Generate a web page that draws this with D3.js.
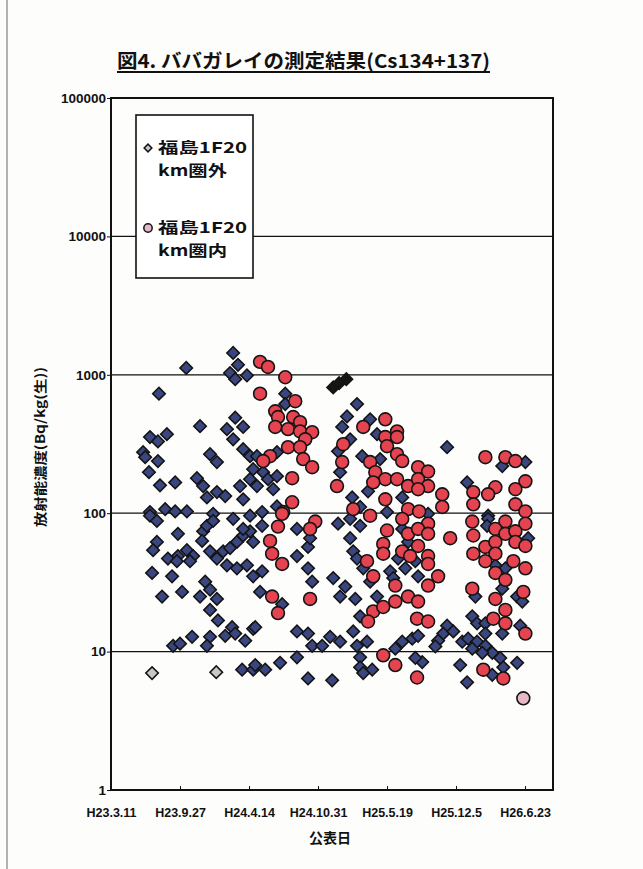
<!DOCTYPE html>
<html><head><meta charset="utf-8">
<script src="https://cdn.jsdelivr.net/npm/d3@7"></script>
<style>body{margin:0;background:#fff}</style>
</head><body>
<svg id="c" width="643" height="869"></svg>
<script>
// ---- data (days since H23.3.11, Bq/kg) ----
const startDate = "2011-03-11";
const endDay = 1281;
const tickDates = ["2011-03-11","2011-09-27","2012-04-14","2012-10-31","2013-05-19","2013-12-05","2014-06-23"];
const tickLabels = ["H23.3.11","H23.9.27","H24.4.14","H24.10.31","H25.5.19","H25.12.5","H26.6.23"];
const yTicks = [1,10,100,1000,10000,100000];
const gridValues = [10,100,1000,10000];
const seriesNames = ["福島1F20km圏外","福島1F20km圏内"];

const outside = [
[354,1440],[368,1180],[345,1030],[360,930],[394,990],[218,1120],[139,730],[258,425],[360,490],[336,405],[383,420],[354,342],[383,290],[403,258],[113,355],[136,330],[162,372],[93,276],[99,254],[136,238],[110,198],[142,159],[186,167],[249,179],[267,157],[287,267],[307,234],[278,130],[307,142],[331,133],[374,157],[403,176],[383,126],[113,102],[157,107],[186,103],[220,103],[296,99],
[113,96],[133,88],[194,71],[267,74],[278,81],[264,63],[296,88],[133,62],[122,54],[165,47],[194,49],[220,54],[238,49],[191,45],[229,45],[287,53],[307,47],[325,53],[345,56],[365,62],[383,69],[403,74],[336,42],[365,40],[394,42],[412,35],[383,77],[354,91],[403,96],[119,37],[177,35],[273,32],[206,27],[148,25],[258,25],[287,28],[307,24],[287,20],[310,16.8],[351,15],[331,13],[360,13.5],[287,12.8],[278,11],[235,12.8],[389,12],[412,14.6],[180,11],[200,11.4],[380,7.4],[412,7.4],
[505,730],[505,615],[423,258],[481,276],[412,208],[441,198],[455,176],[481,185],[470,149],[423,157],[481,112],[438,102],[713,615],[684,500],[670,420],[693,342],[658,280],[664,198],[751,477],[771,372],[728,258],[780,246],[745,144],[699,130],[722,111],[800,102],
[658,84],[539,77],[438,81],[412,62],[539,49],[571,57],[577,66],[571,40],[438,38],[583,32],[644,34],[679,29.5],[664,25],[708,24],[432,27],[496,22],[418,15],[539,14],[571,13.5],[583,11],[612,11],[635,12.8],[664,11.8],[702,14],[539,9.1],[490,8.3],[418,8.0],[447,7.4],[571,6.4],[641,6.2],[713,11],[742,11.8],[722,9.1],[722,7.7],[757,7.4],[731,7.0],[693,91],[722,81],[693,66],[702,53],[713,47],[731,40],[751,32],[771,25],[809,38],[818,34],[722,18],
[974,300],[1201,234],[1134,219],[1032,167],[844,130],[919,99],[1093,96],
[1093,91],[1090,81],[1209,66],[844,77],[861,62],[832,47],[853,40],[882,45],[890,35],[1114,42],[1143,40],[1134,28.5],[1056,25],[1177,25],[1192,23],[1047,18],[1061,16],[1085,16],[1085,13.5],[1134,13.5],[1186,15.4],[974,15.4],[963,13.5],[992,14],[948,12],[940,10.9],[1018,11.8],[1035,12.4],[1061,11.8],[1085,11],[1105,9.8],[1128,9.0],[1137,7.7],[1047,10.5],[1076,9.8],[1177,8.3],[1012,8.0],[1105,6.8],[1032,6.0],[873,12.4],[844,11.8],[890,13],[824,10.5],[902,8.4],[882,9.0]
];
const outsideDark = [[644,810],[661,870],[682,930]];
const outsideND = [[119,7.0],[305,7.1]];

const inside = [
[432,1240],[455,1140],[505,960],[432,730],[534,645],[476,545],[484,495],[528,495],[476,420],[513,405],[548,455],[548,390],[583,385],[563,342],[513,300],[548,300],[461,258],[441,238],[557,246],[583,215],[525,179],[525,120],[499,102],[673,315],[670,234],[655,157],[731,420],[795,477],[795,355],[800,305],[829,390],[829,355],[829,267],[751,234],[766,198],[795,176],[829,176],[760,167],[795,126],[702,107],
[496,99],[484,80],[592,87],[577,77],[461,63],[467,51],[496,43],[577,24],[467,25],[484,19],[789,9.4],[824,8.0],[751,96],[800,75],[742,45],[760,35],[789,60],[789,51],[760,19.5],[745,16.5],[789,21],[824,23],[824,30],
[844,238],[1085,254],[1143,254],[1172,238],[890,215],[919,200],[861,157],[890,176],[919,157],[890,149],[1050,142],[1114,154],[1093,137],[1201,170],[1172,149],[960,137],[1050,116],[960,111],[1172,116],[1201,103],[861,107],[893,103],
[844,91],[919,84],[861,71],[890,77],[919,71],[890,58],[844,53],[867,49],[919,49],[919,43],[983,66],[948,35],[919,30],[861,25],[890,23],[887,17.3],[919,16.5],[1047,87],[1143,87],[1201,84],[1114,77],[1143,71],[1172,74],[1050,69],[1085,57],[1114,62],[1172,62],[1201,58],[1050,51],[1114,51],[1085,45],[1166,45],[1201,40],[1114,37],[1143,33],[1047,28.5],[1195,27],[1114,24],[1143,20],[1108,17.3],[1143,16],[1201,13.5],[1079,7.4],[1137,6.4],[887,6.5]
];
const insideND = [[1195,4.6]];

// ---- chart ----
const parse = d3.timeParse("%Y-%m-%d");
const t0 = parse(startDate);
const dayToDate = d => new Date(t0.getTime() + d * 86400000);
const M = {left:111, right:553, top:98, bottom:790};
const x = d3.scaleTime().domain([t0, dayToDate(endDay)]).range([M.left, M.right]);
const y = d3.scaleLog().domain([1,100000]).range([M.bottom, M.top]);

const svg = d3.select("#c");
const FONT = "'Liberation Sans', Arial, 'Noto Sans CJK JP', sans-serif";
const JFONT = "'Noto Sans CJK JP', sans-serif";
svg.append("rect").attr("width",643).attr("height",869).attr("fill","#fdfdfc");
svg.append("line").attr("x1",7).attr("x2",7).attr("y1",0).attr("y2",869).attr("stroke","#999").attr("stroke-width",1.5);

// title
const title = svg.append("text").attr("x",117).attr("y",68)
  .attr("font-family",JFONT).attr("font-weight","bold").attr("font-size",19)
  .attr("textLength",373).attr("lengthAdjust","spacingAndGlyphs")
  .attr("fill","#111").text("図4. ババガレイの測定結果(Cs134+137)");
svg.append("line").attr("x1",117).attr("x2",490).attr("y1",72).attr("y2",72).attr("stroke","#111").attr("stroke-width",2);

// gridlines
svg.append("g").selectAll("line").data(gridValues).join("line")
  .attr("x1",M.left).attr("x2",M.right).attr("y1",d=>y(d)).attr("y2",d=>y(d))
  .attr("stroke","#111").attr("stroke-width",1.2);

// axes
const yAxis = svg.append("g").attr("transform",`translate(${M.left},0)`)
  .call(d3.axisLeft(y).tickValues(yTicks).tickSize(4).tickPadding(1).tickFormat(d3.format("d")));
yAxis.select(".domain").remove();
yAxis.selectAll("text").attr("font-family",FONT).attr("font-weight","bold").attr("font-size",13.5).attr("fill","#111");
yAxis.selectAll("line").attr("stroke","#111");

const xAxis = svg.append("g").attr("transform",`translate(0,${M.bottom})`)
  .call(d3.axisBottom(x).tickValues(tickDates.map(parse)).tickSize(-4).tickPadding(18).tickFormat((d,i)=>tickLabels[i]));
xAxis.select(".domain").remove();
xAxis.selectAll("text").attr("font-family",FONT).attr("font-weight","bold").attr("font-size",12.5).attr("fill","#111");
xAxis.selectAll("line").attr("stroke","#111");

// frame
svg.append("rect").attr("x",M.left).attr("y",M.top).attr("width",M.right-M.left).attr("height",M.bottom-M.top)
  .attr("fill","none").attr("stroke","#111").attr("stroke-width",2);

// axis titles
svg.append("text").attr("transform","translate(45,367) rotate(-90)").attr("text-anchor","end")
  .attr("font-family",JFONT).attr("font-weight","bold").attr("font-size",13).attr("fill","#111")
  .attr("textLength",160).attr("lengthAdjust","spacingAndGlyphs")
  .text("放射能濃度(Bq/kg(生))");
svg.append("text").attr("x",330).attr("y",843).attr("text-anchor","middle")
  .attr("font-family",JFONT).attr("font-weight","bold").attr("font-size",14).attr("fill","#111")
  .text("公表日");

// markers
const diamond = d3.symbol().type(d3.symbolSquare).size(78)();
const circle = d3.symbol().type(d3.symbolCircle).size(130)();
const plot = svg.append("g");
function drawDiamonds(data, fill) {
  plot.append("g").selectAll("path").data(data).join("path")
    .attr("d", diamond)
    .attr("transform", d => `translate(${x(dayToDate(d[0]))},${y(d[1])}) rotate(45)`)
    .attr("fill", fill).attr("stroke","#141414").attr("stroke-width",1.6);
}
function drawCircles(data, fill) {
  plot.append("g").selectAll("path").data(data).join("path")
    .attr("d", circle)
    .attr("transform", d => `translate(${x(dayToDate(d[0]))},${y(d[1])})`)
    .attr("fill", fill).attr("stroke","#141414").attr("stroke-width",1.6);
}
drawDiamonds(outside, "#3a4680");
drawDiamonds(outsideDark, "#151515");
drawDiamonds(outsideND, "#c8c8c8");
drawCircles(inside, "#e4434f");
drawCircles(insideND, "#e7b8c8");

// legend
const lg = svg.append("g");
lg.append("rect").attr("x",136).attr("y",115).attr("width",117).attr("height",163)
  .attr("fill","#fff").attr("stroke","#111").attr("stroke-width",1.6);
lg.append("path").attr("d", d3.symbol().type(d3.symbolSquare).size(30)()).attr("transform","translate(148,148) rotate(45)")
  .attr("fill","#c8c8c8").attr("stroke","#141414").attr("stroke-width",1.5);
lg.append("path").attr("d", d3.symbol().type(d3.symbolCircle).size(55)()).attr("transform","translate(148,228)")
  .attr("fill","#e7b8c8").attr("stroke","#141414").attr("stroke-width",1.5);
const lt = [[seriesNames[0].slice(0,6), 158, 153, 89],[seriesNames[0].slice(6), 158, 176, 69],
            [seriesNames[1].slice(0,6), 158, 233, 89],[seriesNames[1].slice(6), 158, 256, 69]];
lg.selectAll("text").data(lt).join("text").attr("x",d=>d[1]).attr("y",d=>d[2])
  .attr("font-family",JFONT).attr("font-weight","bold").attr("font-size",15).attr("fill","#111")
  .attr("textLength",d=>d[3]).attr("lengthAdjust","spacingAndGlyphs")
  .text(d=>d[0]);
</script>
</body></html>
